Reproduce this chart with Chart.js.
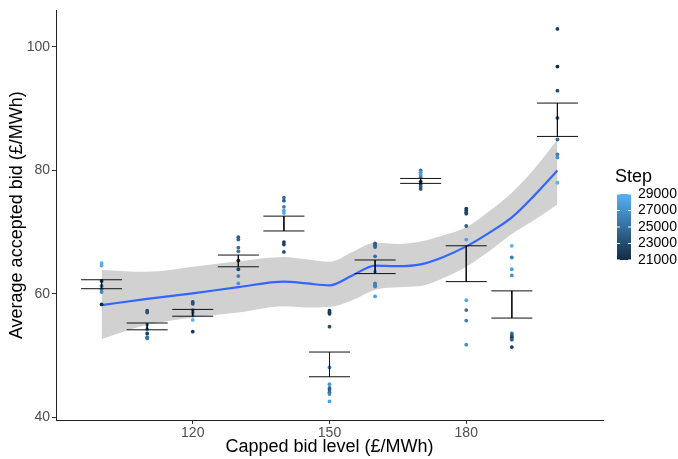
<!DOCTYPE html>
<html>
<head>
<meta charset="utf-8">
<script src="https://cdn.jsdelivr.net/npm/chart.js@4.4.0/dist/chart.umd.min.js"></script>
<style>
  body { margin: 0; background: #fff; }
</style>
</head>
<body>
<canvas id="bids" width="678" height="459"></canvas>
<script>
// capped bid levels and the error bar ends at each
const bidLevels = [100, 110, 120, 130, 140, 150, 160, 170, 180, 190, 200]
const errLow  = [60.85, 54.2, 56.4, 64.4, 70.2, 46.6, 63.3, 77.9, 62.0, 56.1, 85.5]
const errHigh = [62.3, 55.3, 57.5, 66.3, 72.6, 50.6, 65.5, 78.7, 67.8, 60.5, 90.9]

// individual runs: bid level, average accepted bid, step
const pointBid = [
  100,100,100,100,100,100,100,
  110,110,110,110,110,110,110,
  120,120,120,120,120,120,120,
  130,130,130,130,130,130,130,130,
  140,140,140,140,140,140,140,140,
  150,150,150,150,150,150,150,150,150,150,150,
  160,160,160,160,160,160,160,160,160,
  170,170,170,170,170,170,170,170,
  180,180,180,180,180,180,180,180,180,180,
  190,190,190,190,190,190,190,190,190,
  200,200,200,200,200,200,200,200
]
const pointAvg = [
  65.0, 64.6, 62.1, 61.3, 60.8, 60.3, 58.3,
  57.3, 57.0, 55.0, 54.3, 53.6, 53.0, 52.8,
  58.7, 58.4, 57.4, 57.0, 56.5, 55.8, 53.9,
  69.2, 68.8, 67.5, 66.9, 65.4, 64.0, 62.9, 61.7,
  75.6, 75.1, 74.1, 73.5, 73.1, 68.4, 68.0, 66.8,
  57.3, 57.0, 56.8, 54.7, 48.1, 45.4, 44.8, 44.5, 44.1, 43.8, 42.6,
  68.2, 67.9, 67.6, 66.1, 63.6, 61.7, 61.4, 61.2, 59.6,
  80.0, 79.7, 79.3, 78.9, 78.2, 77.8, 77.4, 77.0,
  73.8, 73.5, 73.2, 73.0, 71.0, 68.8, 59.0, 57.4, 55.7, 51.8,
  67.8, 65.9, 64.0, 63.0, 53.6, 53.2, 52.9, 52.6, 51.4,
  102.9, 96.8, 92.9, 88.5, 85.0, 82.6, 82.1, 78.0
]
const pointStep = [
  29000, 28500, 21500, 24000, 25000, 26500, 21000,
  23000, 23500, 28000, 26000, 22000, 25000, 25500,
  23000, 23500, 25000, 26000, 28000, 29000, 22000,
  24000, 24500, 25000, 25500, 21000, 22500, 26000, 27500,
  25000, 24000, 26000, 28000, 28500, 22000, 22500, 23000,
  21500, 22000, 22000, 23000, 26000, 27500, 25000, 24000, 25000, 26500, 28000,
  24000, 24000, 24500, 25000, 27500, 26000, 26000, 26500, 28000,
  25000, 27500, 28000, 26000, 22000, 21000, 24000, 23000,
  22000, 22000, 23000, 22500, 24000, 28000, 28500, 25000, 26000, 27000,
  29000, 26000, 28000, 27000, 25000, 23000, 22000, 24000, 22000,
  22000, 21000, 23000, 23000, 25000, 26000, 27000, 29000
]

// loess fit with its confidence band
const smoothBid  = [100, 110, 120, 130, 140, 145, 150, 155, 160, 165, 170, 175, 180, 185, 190, 195, 200]
const smoothFit  = [58.2, 59.2, 60.1, 61.1, 62.0, 61.7, 61.4, 63.0, 64.6, 64.5, 64.8, 66.0, 67.7, 69.9, 72.4, 76.0, 80.0]
const smoothLow  = [52.7, 55.0, 56.2, 57.0, 58.0, 57.8, 57.9, 59.0, 60.7, 61.1, 61.3, 62.6, 64.4, 66.9, 69.7, 72.0, 74.5]
const smoothHigh = [63.9, 63.6, 64.4, 65.3, 66.0, 65.6, 65.2, 66.8, 68.3, 68.1, 68.5, 69.5, 70.8, 73.4, 76.4, 80.3, 85.0]

const stepTicks = [21000, 23000, 25000, 27000, 29000]

const lowColour = [19, 43, 67]
const highColour = [86, 177, 247]
const stepMin = Math.min(...pointStep)
const stepMax = Math.max(...pointStep)

function stepColour(s) {
  let t = (s - stepMin) / (stepMax - stepMin)
  t = Math.max(0, Math.min(1, t))
  const c = lowColour.map((v, i) => Math.round(v + (highColour[i] - v) * t))
  return 'rgb(' + c.join(',') + ')'
}

const capHalf = 4.5
const errData = []
bidLevels.forEach((b, i) => {
  errData.push({x: b - capHalf, y: errHigh[i]}, {x: b + capHalf, y: errHigh[i]}, {x: b, y: null})
  errData.push({x: b, y: errHigh[i]}, {x: b, y: errLow[i]}, {x: b, y: null})
  errData.push({x: b - capHalf, y: errLow[i]}, {x: b + capHalf, y: errLow[i]}, {x: b, y: null})
})

const font = 'Liberation Sans, Arial, sans-serif'

const stepBar = {
  id: 'stepBar',
  afterDraw(chart) {
    const ctx = chart.ctx
    const top = 194, bottom = 260, left = 617, w = 14
    const grad = ctx.createLinearGradient(0, bottom, 0, top)
    for (let k = 0; k <= 10; k++) {
      grad.addColorStop(k / 10, stepColour(stepMin + (stepMax - stepMin) * k / 10))
    }
    ctx.save()
    ctx.fillStyle = grad
    ctx.fillRect(left, top, w, bottom - top)

    ctx.fillStyle = '#000'
    ctx.font = '18px ' + font
    ctx.textBaseline = 'middle'
    ctx.fillText('Step', 615, 177)

    ctx.font = '14px ' + font
    ctx.strokeStyle = '#fff'
    ctx.lineWidth = 1
    stepTicks.forEach(s => {
      const y = bottom - (s - stepMin) / (stepMax - stepMin) * (bottom - top)
      ctx.beginPath()
      ctx.moveTo(left, y); ctx.lineTo(left + 3, y)
      ctx.moveTo(left + w - 3, y); ctx.lineTo(left + w, y)
      ctx.stroke()
      ctx.fillText(String(s), 638, y)
    })
    ctx.restore()
  }
}

const ctx = document.getElementById('bids').getContext('2d')

new Chart(ctx, {
  type: 'scatter',
  data: {
    datasets: [
      {
        label: 'band low',
        data: smoothBid.map((b, i) => ({x: b, y: smoothLow[i]})),
        showLine: true,
        borderWidth: 0,
        pointRadius: 0,
        cubicInterpolationMode: 'monotone',
        fill: false,
        order: 6
      },
      {
        label: 'band high',
        data: smoothBid.map((b, i) => ({x: b, y: smoothHigh[i]})),
        showLine: true,
        borderWidth: 0,
        pointRadius: 0,
        cubicInterpolationMode: 'monotone',
        fill: '-1',
        backgroundColor: 'rgba(153,153,153,0.45)',
        order: 5
      },
      {
        label: 'loess',
        data: smoothBid.map((b, i) => ({x: b, y: smoothFit[i]})),
        showLine: true,
        borderColor: '#3366FF',
        borderWidth: 2.2,
        pointRadius: 0,
        cubicInterpolationMode: 'monotone',
        order: 4
      },
      {
        label: 'runs',
        data: pointBid.map((b, i) => ({x: b, y: pointAvg[i]})),
        pointRadius: 1.9,
        pointBorderWidth: 0,
        pointBackgroundColor: pointStep.map(stepColour),
        order: 2
      },
      {
        label: 'error',
        data: errData,
        showLine: true,
        spanGaps: false,
        borderColor: '#111',
        borderWidth: 1,
        pointRadius: 0,
        order: 1
      }
    ]
  },
  options: {
    responsive: false,
    animation: false,
    devicePixelRatio: 1,
    layout: { padding: { top: 8, right: 75, left: 0, bottom: 0 } },
    scales: {
      x: {
        type: 'linear',
        min: 90,
        max: 210,
        afterBuildTicks: axis => { axis.ticks = [120, 150, 180].map(v => ({value: v})) },
        afterFit: axis => { axis.height = 39 },
        grid: { display: true, drawOnChartArea: false, drawTicks: true, tickLength: 4, color: '#333' },
        border: { display: true, color: '#222', width: 1 },
        ticks: { color: '#4D4D4D', font: { family: font, size: 14 }, padding: 1 },
        title: {
          display: true,
          text: 'Capped bid level (£/MWh)',
          color: '#000',
          font: { family: font, size: 18 },
          padding: { top: 0, bottom: 1 }
        }
      },
      y: {
        min: 39.6,
        max: 105.9,
        afterBuildTicks: axis => { axis.ticks = [40, 60, 80, 100].map(v => ({value: v})) },
        afterFit: axis => { axis.width = 56 },
        grid: { display: true, drawOnChartArea: false, drawTicks: true, tickLength: 4, color: '#333' },
        border: { display: true, color: '#222', width: 1 },
        ticks: { color: '#4D4D4D', font: { family: font, size: 14 }, padding: 2 },
        title: {
          display: true,
          text: 'Average accepted bid (£/MWh)',
          color: '#000',
          font: { family: font, size: 18 },
          padding: { top: 6, bottom: 0 }
        }
      }
    },
    plugins: {
      legend: { display: false },
      tooltip: { enabled: false }
    }
  },
  plugins: [stepBar]
})
</script>
</body>
</html>
